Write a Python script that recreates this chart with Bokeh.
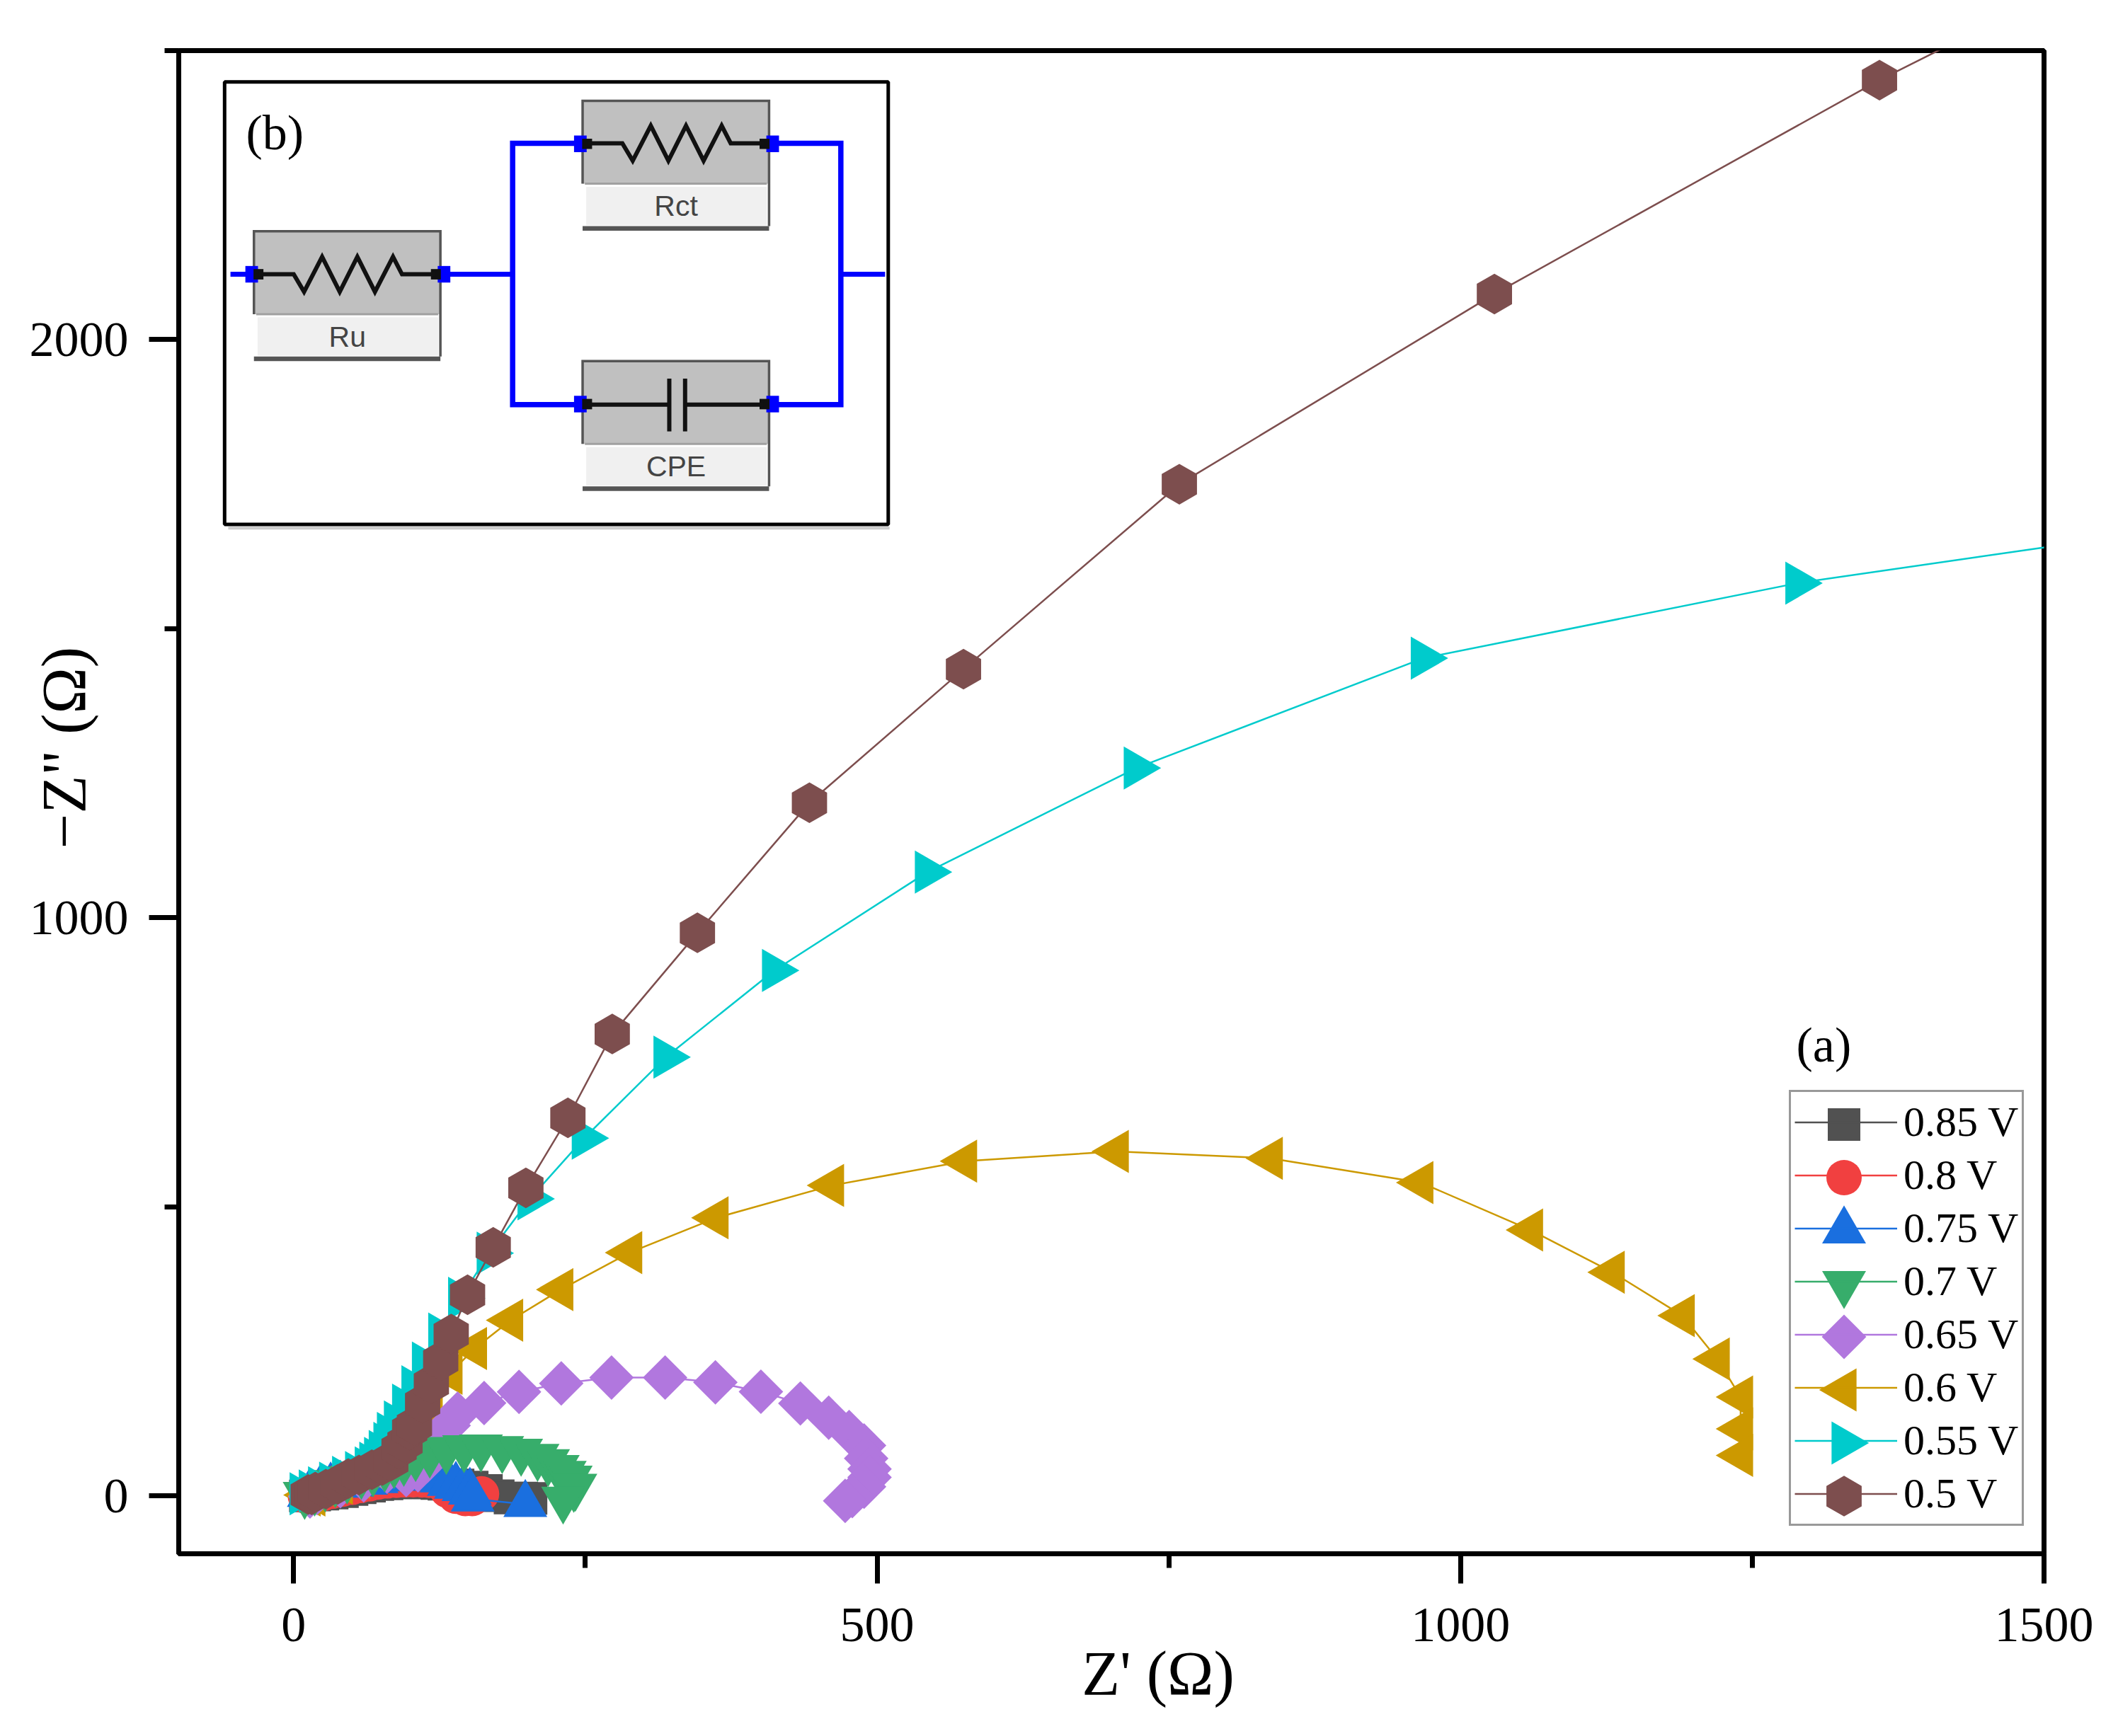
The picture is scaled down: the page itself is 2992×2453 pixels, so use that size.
import math
from bokeh.plotting import figure
from bokeh.models import Range1d, FixedTicker, Label, Legend, LegendItem
from bokeh.embed import file_html
from bokeh.resources import INLINE

# ---------- data ----------
labels = ["0.85 V", "0.8 V", "0.75 V", "0.7 V", "0.65 V", "0.6 V", "0.55 V", "0.5 V"]

x_085 = [10, 18, 25, 33, 41.8, 50, 57, 65, 72.1, 80, 88, 95, 102.5, 110, 116, 122.7, 128.8, 140.9, 153, 165.2, 175.3, 185.4, 195.5, 203.4]
y_085 = [0, 1.5, 3, 5, 7.3, 11, 14, 17, 19.6, 21, 22.5, 23, 23.6, 23.2, 22.5, 21.6, 20.3, 19.1, 15.5, 9.7, 0.4, -3.7, -3.7, -4.1]

x_080 = [10, 18, 25, 33, 41.8, 50, 57, 65, 72.1, 80, 88, 95, 102.5, 110, 116, 122.7, 124.7, 131.8, 138.9, 147, 153, 161]
y_080 = [0, 2, 4, 8, 11.8, 15, 18, 21, 24, 26, 27, 27.8, 28, 27.7, 27, 26, 24, 9.7, -0.5, -4.5, -4.5, 3.6]

x_075 = [13, 22, 31.7, 40, 50, 62, 71, 80, 90, 100.4, 107, 114.6, 120, 126.7, 133, 139, 145.6, 151, 153.4, 198.5]
y_075 = [3, 9, 15.9, 19, 21, 24, 27, 29.8, 33, 35.8, 35, 34, 31, 28, 22, 17, 13, 6.9, -5, -14.3]

x_070 = [9.4, 18, 27, 35.7, 45.8, 58, 68, 78, 86, 94.4, 104.5, 116.6, 130.8, 146, 160.5, 178.7, 194.9, 209, 218, 226.3, 232.3, 237.4, 241.4, 240, 230.9]
y_070 = [2.4, 8, 15, 22.8, 29, 37, 41, 49.4, 55.5, 59.6, 67.7, 73.8, 80, 83, 84.4, 81.5, 77, 68, 59, 49, 38.7, 30.5, 16.3, 14.6, -5.8]

x_065 = [14, 20, 40, 60, 80, 96.4, 106.5, 114.6, 121.7, 127.7, 132.8, 140.5, 163.2, 193.1, 229.3, 272.4, 318.3, 361.4, 400.4, 434.2, 458.5, 476, 488.8, 490.6, 493.5, 493.5, 488.8, 478.7, 472.6]
y_065 = [-1, 5, 17, 27, 42, 36, 44.4, 60.7, 81, 101.5, 122, 142.4, 160.8, 180, 194.6, 204.8, 204.8, 196.5, 180.3, 160, 135.4, 110.6, 87.3, 64.9, 46.5, 32.2, 16, -0.4, -8.6]

x_060 = [12.4, 16.5, 24.8, 40, 55, 70, 85, 95, 101, 106, 111, 117, 134, 155, 186, 229, 288, 362, 461, 575, 705, 837, 966, 1060, 1130, 1190, 1220, 1240, 1240, 1240]
y_060 = [1.6, 1.6, 18, 22, 32, 44, 52, 60, 85, 115, 145, 179, 212, 255, 304, 357, 421, 481, 537, 579, 596, 584, 542, 460, 387, 312, 237, 171, 116, 70]

x_055 = [7.2, 15, 23, 32.5, 43.6, 54.7, 63, 66.9, 71, 75, 79, 82, 88, 95, 103, 112, 126, 143, 167.5, 202.5, 249, 319, 412, 543, 722, 968, 1289, 1659]
y_055 = [3.7, 8.5, 14, 22, 32.2, 40.4, 48.5, 56.7, 65, 77, 91, 108, 128, 157, 189, 230, 280, 342, 420, 514, 619, 759, 909, 1079, 1259, 1449, 1579, 1687]

x_050 = [12.4, 15.5, 18.5, 27.6, 37.7, 46.8, 56, 67, 76, 83.2, 90.3, 95.4, 99.4, 103.5, 110.5, 118, 126, 135, 149, 171, 199, 235, 273, 346, 442, 574, 759, 1029, 1359, 1716]
y_050 = [2.4, 2, 6.9, 11.8, 20, 30.2, 36.3, 45.3, 52.6, 60, 81, 92, 113.8, 122, 160, 194, 234, 280, 348, 430, 533, 654, 799, 974, 1199, 1430, 1750, 2079, 2449, 2811]

x_ticks = [0, 500, 1000, 1500]
x_minor = [250, 750, 1250]
y_ticks = [0, 1000, 2000]
y_minor = [500, 1500, 2500]
x_title = "\u00a0\u00a0\u00a0\u00a0\u00a0\u00a0Z' (\u03a9)"
y_title = "\u00a0\u00a0\u00a0\u00a0\u00a0\u00a0\u00a0\u2212Z\" (\u03a9)"

# ---------- layout ----------
SERIF = "Liberation Serif"
SANS = "Liberation Sans"
F_L, F_T, F_W, F_H = 252, 71, 2635, 2124   # frame in image pixels
X0, X1, Y0, Y1 = -98.5, 1500, -100, 2500
W, H = 2976, 2437


def X(f):
    return X0 + (f - F_L) * (X1 - X0) / F_W


def Y(f):
    return Y1 - (f - F_T) * (Y1 - Y0) / F_H


p = figure(width=W, height=H, frame_width=F_W, frame_height=F_H,
           x_range=Range1d(X0, X1), y_range=Range1d(Y0, Y1),
           output_backend="svg", toolbar_location=None,
           min_border_left=F_L, min_border_top=F_T,
           min_border_right=W - F_L - F_W,
           min_border_bottom=H - F_T - F_H,
           background_fill_color="white", border_fill_color="white")
p.grid.visible = False
p.outline_line_color = "black"
p.outline_line_width = 7

for ax, maj, mnr in ((p.xaxis[0], x_ticks, x_minor), (p.yaxis[0], y_ticks, y_minor)):
    ax.ticker = FixedTicker(ticks=maj, minor_ticks=mnr)
    ax.axis_line_width = 7
    ax.axis_line_color = "black"
    ax.major_tick_line_width = 7
    ax.minor_tick_line_width = 7
    ax.major_tick_line_color = "black"
    ax.minor_tick_line_color = "black"
    ax.major_tick_in = 0
    ax.minor_tick_in = 0
    ax.major_tick_out = 42
    ax.minor_tick_out = 20
    ax.major_label_text_font = SERIF
    ax.major_label_text_font_size = "70px"
    ax.major_label_text_color = "black"
    ax.axis_label_text_font = SERIF
    ax.axis_label_text_font_size = "88px"
    ax.axis_label_text_font_style = "normal"
    ax.axis_label_text_color = "black"
p.xaxis[0].major_label_standoff = 35
p.yaxis[0].major_label_standoff = 29
p.xaxis[0].axis_label = x_title
p.yaxis[0].axis_label = y_title
p.xaxis[0].axis_label_standoff = -6
p.yaxis[0].axis_label_standoff = -100

# ---------- series ----------
style = {
    "0.85 V": ("square", 46, 0, "#515151"),
    "0.8 V": ("circle", 50, 0, "#F14040"),
    "0.75 V": ("triangle", 62, 0, "#1A6FDF"),
    "0.7 V": ("inverted_triangle", 62, 0, "#37AD6B"),
    "0.65 V": ("square", 44.5, math.pi / 4, "#B177DE"),
    "0.6 V": ("triangle", 61, math.pi / 2, "#CC9900"),
    "0.55 V": ("triangle", 61, -math.pi / 2, "#00CBCC"),
    "0.5 V": ("hex", 57.5, math.pi / 6, "#7D4E4E"),
}
series = {
    "0.85 V": (x_085, y_085), "0.8 V": (x_080, y_080), "0.75 V": (x_075, y_075),
    "0.7 V": (x_070, y_070), "0.65 V": (x_065, y_065), "0.6 V": (x_060, y_060),
    "0.55 V": (x_055, y_055), "0.5 V": (x_050, y_050),
}
draw_order = ["0.85 V", "0.8 V", "0.75 V", "0.6 V", "0.65 V", "0.7 V", "0.55 V", "0.5 V"]
line_r = {}
for name in draw_order:
    mk, sz, ang, col = style[name]
    xs, ys = series[name]
    line_r[name] = p.line(xs, ys, line_color=col, line_width=2.5)
    p.scatter(xs, ys, marker=mk, size=sz, angle=ang, fill_color=col, line_color=col, line_width=0)

# ---------- legend: native box, lines and labels over large markers ----------
LG_L, LG_B = 2527, 2156
row_h = 75
lg_top = LG_B - 8 * row_h - 10 + 5
for i, n in enumerate(labels):
    mk, sz, ang, col = style[n]
    p.scatter([X(2604.5)], [Y(lg_top + (i + 0.5) * row_h)], marker=mk, size=sz, angle=ang,
              fill_color=col, line_color=col, line_width=0)
legend = Legend(items=[LegendItem(label=n, renderers=[line_r[n]]) for n in labels],
                location=(LG_L - F_L, F_T + F_H - LG_B),
                glyph_width=145, glyph_height=row_h, spacing=0, padding=5, margin=0,
                label_standoff=9, label_text_font=SERIF, label_text_font_size="60px",
                label_text_color="black", label_height=row_h,
                border_line_color="#333333", border_line_width=3,
                background_fill_alpha=0)
p.add_layout(legend)


# ---------- inset circuit (b); positions in reference pixels ----------
def ix(px):
    return X(290 + px / 1.568)


def iy(py):
    return Y(90 + py / 2.306)


def iline(xs, ys, color, width):
    p.line([ix(a) for a in xs], [iy(b) for b in ys], line_color=color, line_width=width,
           line_join="miter")


def ibox(x0, x1, y0, y1, color):
    p.quad(left=ix(x0), right=ix(x1), top=iy(y0), bottom=iy(y1), fill_color=color, line_color=None)


iline([50, 1515], [1512, 1512], "#cccccc", 4)
p.quad(left=ix(42), right=ix(1512), top=iy(58), bottom=iy(1500), fill_color="white",
       line_color="black", line_width=5)

BLUE = "#0000FF"
iline([55, 107], [685, 685], BLUE, 7)
iline([520, 680], [685, 685], BLUE, 7)
iline([835, 680, 680, 835], [258, 258, 1110, 1110], BLUE, 7.5)
iline([1247, 1407, 1407, 1247], [258, 258, 1110, 1110], BLUE, 7.5)
iline([1407, 1505], [685, 685], BLUE, 7)


def element(x0, y0, name):
    x1 = x0 + 413
    ibox(x0, x1, y0, y0 + 270, "#C0C0C0")
    ibox(x0 + 8, x1 - 5, y0 + 280, y0 + 405, "#F0F0F0")
    ibox(x0, x1, y0 + 408, y0 + 423, "#555555")
    iline([x0, x0, x1, x1], [y0 + 270, y0, y0, y0 + 408], "#555555", 3.5)
    iline([x0 + 5, x1 - 5], [y0 + 270, y0 + 270], "#A0A0A0", 3)
    p.add_layout(Label(x=ix(x0 + 207), y=iy(y0 + 343), text=name, text_font=SANS,
                       text_font_size="41px", text_color="#444444", text_align="center",
                       text_baseline="middle"))
    ymid = y0 + 140
    for cx in (x0 - 5, x1 + 8):
        ibox(cx - 14, cx + 14, ymid - 27, ymid + 27, BLUE)
    for cx in (x0 + 10, x1 - 10):
        ibox(cx - 11, cx + 11, ymid - 17, ymid + 17, "#101010")


def resistor(x0, ymid):
    dx = [10, 88, 111, 151, 190, 229, 268, 308, 328, 403]
    dy = [0, 0, 57, -57, 57, -57, 57, -57, 0, 0]
    iline([x0 + a for a in dx], [ymid + b for b in dy], "#111111", 6)


element(107, 545, "Ru")
element(835, 120, "Rct")
element(835, 968, "CPE")
resistor(107, 685)
resistor(835, 258)
iline([845, 1027], [1110, 1110], "#111111", 6)
iline([1062, 1235], [1110, 1110], "#111111", 6)
iline([1027, 1027], [1025, 1197], "#111111", 6)
iline([1062, 1062], [1025, 1197], "#111111", 6)

# ---------- texts inside the frame ----------
for t, fx, fy in (("(b)", 347, 187), ("(a)", 2537, 1476)):
    p.add_layout(Label(x=fx, y=fy, x_units="canvas", y_units="canvas", text=t, text_font=SERIF,
                       text_font_size="70px", text_color="black",
                       text_align="left", text_baseline="alphabetic"))

open("out.html", "w").write(file_html(p, INLINE))
